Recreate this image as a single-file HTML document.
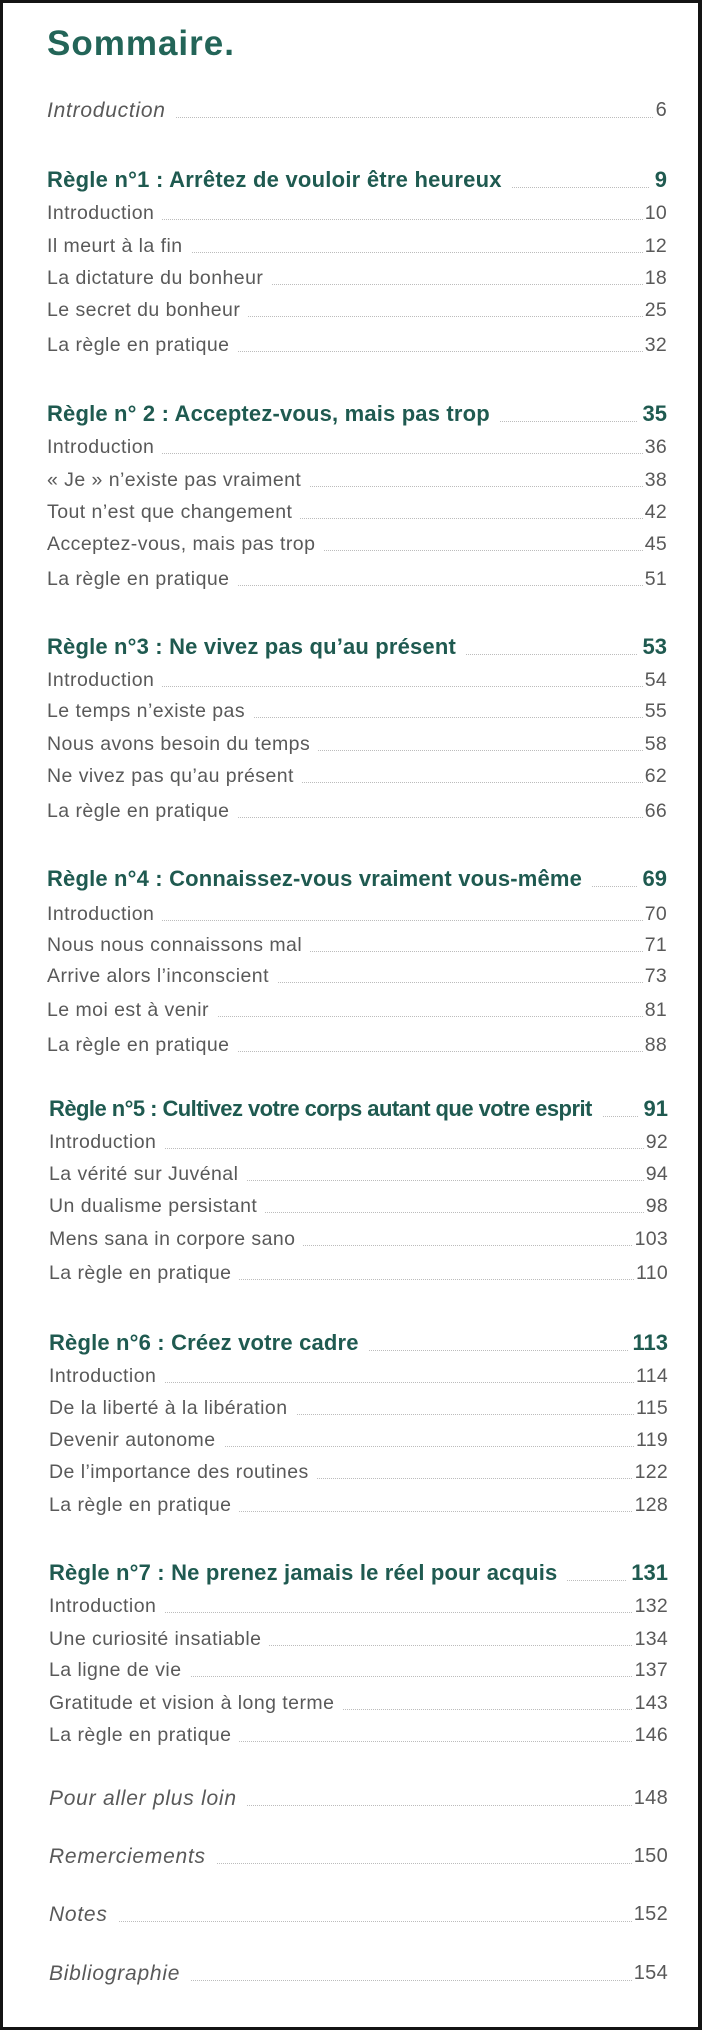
<!DOCTYPE html>
<html>
<head>
<meta charset="utf-8">
<style>
html,body{margin:0;padding:0;}
body{width:702px;height:2030px;background:#141414;position:relative;overflow:hidden;font-family:"Liberation Sans",Arial,sans-serif;}
.page{position:absolute;left:3px;top:3px;width:695px;height:2024px;background:#fff;}
.title{position:absolute;left:47px;top:calc(56px - 29.6px);font-size:35px;line-height:35px;font-weight:bold;color:#236558;letter-spacing:1px;white-space:nowrap;}
.row{position:absolute;left:47px;width:620px;display:flex;white-space:nowrap;}
.row.b{left:49px;width:619px;}
.row::before{content:"";position:absolute;left:0;right:0;border-top:1px dotted #bcbcbc;}
.row span{position:relative;background:#fff;}
.row .n{margin-left:auto;letter-spacing:0.3px;}
.s{font-size:19.5px;line-height:19.5px;color:#595959;letter-spacing:0.45px;top:calc(var(--b)*1px - 16.5px);}
.s::before{top:15.5px;}
.s .t{padding-right:8px;}
.s .n{padding-left:2px;}
.h{font-size:22px;line-height:22px;color:#1f5a50;font-weight:bold;top:calc(var(--b)*1px - 18.6px);}
.h::before{top:17.6px;}
.h .t{padding-right:10px;letter-spacing:0.17px;}
.h .n{padding-left:5px;letter-spacing:0;}
.i{font-size:21px;line-height:21px;color:#595959;letter-spacing:0.75px;top:calc(var(--b)*1px - 17.8px);}
.i::before{top:16.8px;}
.i .t{font-style:italic;padding-right:10px;}
.i .n{padding-left:2px;font-size:20px;}
</style>
</head>
<body>
<div class="page"></div>
<div class="title">Sommaire.</div>

<div class="row i" style="--b:118"><span class="t">Introduction</span><span class="n">6</span></div>

<div class="row h" style="--b:188"><span class="t" style="letter-spacing:0.24px">Règle n°1 : Arrêtez de vouloir être heureux</span><span class="n">9</span></div>
<div class="row s" style="--b:220"><span class="t">Introduction</span><span class="n">10</span></div>
<div class="row s" style="--b:253"><span class="t">Il meurt à la fin</span><span class="n">12</span></div>
<div class="row s" style="--b:285"><span class="t">La dictature du bonheur</span><span class="n">18</span></div>
<div class="row s" style="--b:317"><span class="t">Le secret du bonheur</span><span class="n">25</span></div>
<div class="row s" style="--b:352"><span class="t">La règle en pratique</span><span class="n">32</span></div>

<div class="row h" style="--b:422"><span class="t">Règle n° 2 : Acceptez-vous, mais pas trop</span><span class="n">35</span></div>
<div class="row s" style="--b:454"><span class="t">Introduction</span><span class="n">36</span></div>
<div class="row s" style="--b:487"><span class="t">« Je » n’existe pas vraiment</span><span class="n">38</span></div>
<div class="row s" style="--b:519"><span class="t">Tout n’est que changement</span><span class="n">42</span></div>
<div class="row s" style="--b:551"><span class="t">Acceptez-vous, mais pas trop</span><span class="n">45</span></div>
<div class="row s" style="--b:586"><span class="t">La règle en pratique</span><span class="n">51</span></div>

<div class="row h" style="--b:655"><span class="t">Règle n°3 : Ne vivez pas qu’au présent</span><span class="n">53</span></div>
<div class="row s" style="--b:687"><span class="t">Introduction</span><span class="n">54</span></div>
<div class="row s" style="--b:718"><span class="t">Le temps n’existe pas</span><span class="n">55</span></div>
<div class="row s" style="--b:751"><span class="t">Nous avons besoin du temps</span><span class="n">58</span></div>
<div class="row s" style="--b:783"><span class="t">Ne vivez pas qu’au présent</span><span class="n">62</span></div>
<div class="row s" style="--b:818"><span class="t">La règle en pratique</span><span class="n">66</span></div>

<div class="row h" style="--b:887"><span class="t">Règle n°4 : Connaissez-vous vraiment vous-même</span><span class="n">69</span></div>
<div class="row s" style="--b:921"><span class="t">Introduction</span><span class="n">70</span></div>
<div class="row s" style="--b:952"><span class="t">Nous nous connaissons mal</span><span class="n">71</span></div>
<div class="row s" style="--b:983"><span class="t">Arrive alors l’inconscient</span><span class="n">73</span></div>
<div class="row s" style="--b:1017"><span class="t">Le moi est à venir</span><span class="n">81</span></div>
<div class="row s" style="--b:1052"><span class="t">La règle en pratique</span><span class="n">88</span></div>

<div class="row h b" style="--b:1117"><span class="t" style="letter-spacing:-0.55px">Règle n°5 : Cultivez votre corps autant que votre esprit</span><span class="n">91</span></div>
<div class="row s b" style="--b:1149"><span class="t">Introduction</span><span class="n">92</span></div>
<div class="row s b" style="--b:1181"><span class="t">La vérité sur Juvénal</span><span class="n">94</span></div>
<div class="row s b" style="--b:1213"><span class="t">Un dualisme persistant</span><span class="n">98</span></div>
<div class="row s b" style="--b:1246"><span class="t">Mens sana in corpore sano</span><span class="n">103</span></div>
<div class="row s b" style="--b:1280"><span class="t">La règle en pratique</span><span class="n">110</span></div>

<div class="row h b" style="--b:1351"><span class="t">Règle n°6 : Créez votre cadre</span><span class="n">113</span></div>
<div class="row s b" style="--b:1383"><span class="t">Introduction</span><span class="n">114</span></div>
<div class="row s b" style="--b:1415"><span class="t">De la liberté à la libération</span><span class="n">115</span></div>
<div class="row s b" style="--b:1447"><span class="t">Devenir autonome</span><span class="n">119</span></div>
<div class="row s b" style="--b:1479"><span class="t">De l’importance des routines</span><span class="n">122</span></div>
<div class="row s b" style="--b:1512"><span class="t">La règle en pratique</span><span class="n">128</span></div>

<div class="row h b" style="--b:1581"><span class="t">Règle n°7 : Ne prenez jamais le réel pour acquis</span><span class="n">131</span></div>
<div class="row s b" style="--b:1613"><span class="t">Introduction</span><span class="n">132</span></div>
<div class="row s b" style="--b:1646"><span class="t">Une curiosité insatiable</span><span class="n">134</span></div>
<div class="row s b" style="--b:1677"><span class="t">La ligne de vie</span><span class="n">137</span></div>
<div class="row s b" style="--b:1710"><span class="t">Gratitude et vision à long terme</span><span class="n">143</span></div>
<div class="row s b" style="--b:1742"><span class="t">La règle en pratique</span><span class="n">146</span></div>

<div class="row i b" style="--b:1806"><span class="t">Pour aller plus loin</span><span class="n">148</span></div>
<div class="row i b" style="--b:1864"><span class="t">Remerciements</span><span class="n">150</span></div>
<div class="row i b" style="--b:1922"><span class="t">Notes</span><span class="n">152</span></div>
<div class="row i b" style="--b:1981"><span class="t">Bibliographie</span><span class="n">154</span></div>
</body>
</html>
